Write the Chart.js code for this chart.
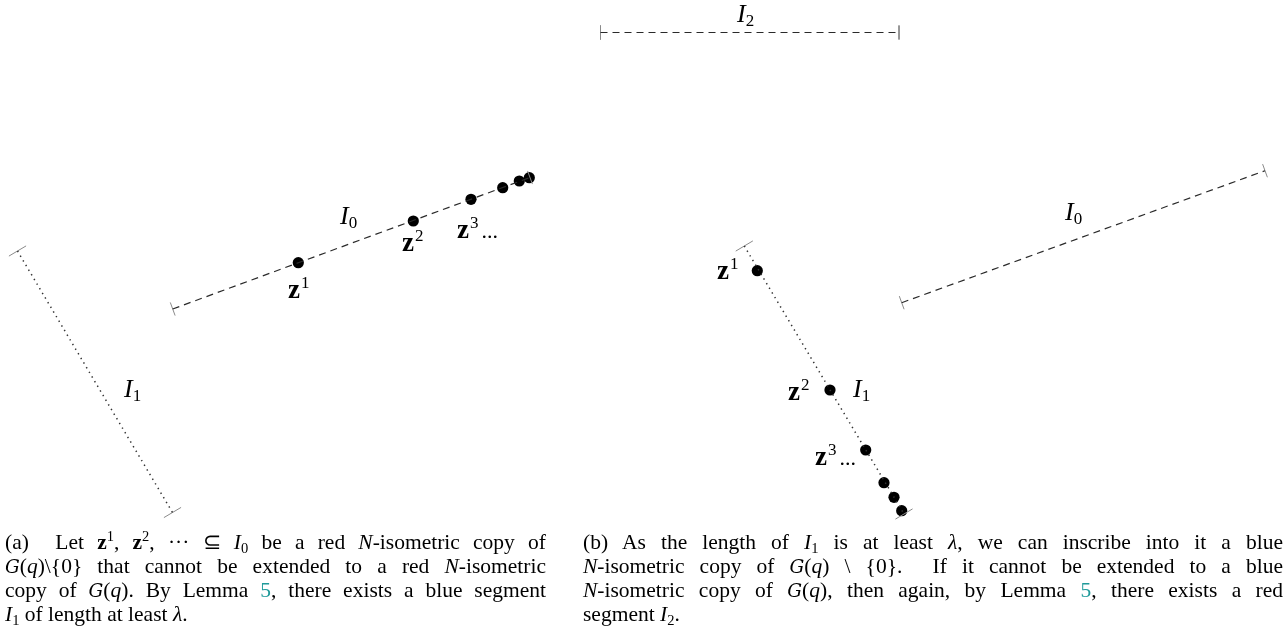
<!DOCTYPE html>
<html>
<head>
<meta charset="utf-8">
<script src="https://cdn.jsdelivr.net/npm/chart.js@4"></script>
<style>
  html, body { margin: 0; padding: 0; background: #fff; }
  #wrap { position: relative; width: 1288px; height: 632px; }
  #figure { position: absolute; left: 0; top: 0; }
  .caption {
    position: absolute;
    top: 530px;
    font-family: "Liberation Serif", serif;
    font-size: 21.5px;
    line-height: 24px;
    color: #000;
  }
  .caption .ln { height: 24px; white-space: nowrap; text-align: justify; text-align-last: justify; }
  .caption .ln.last { text-align-last: left; }
  .caption sup, .caption sub { font-size: 14.5px; line-height: 0; position: relative; vertical-align: baseline; }
  .caption sup { top: -8px; }
  .caption sub { top: 4px; }
  .caption .cal { font-family: "DejaVu Serif", serif; font-style: italic; font-size: 18.5px; }
  .caption .ref { color: #1f9a9a; }
  #capA { left: 5px; width: 541px; }
  #capB { left: 583px; width: 700px; }
</style>
</head>
<body>
<div id="wrap">
  <canvas id="figure" width="1288" height="632"></canvas>
  <div class="caption" id="capA">
    <div class="ln">(a)&nbsp; Let <b>z</b><sup>1</sup>, <b>z</b><sup>2</sup>, &middot;&middot;&middot; &sube; <i>I</i><sub>0</sub> be a red <i>N</i>-isometric copy of</div>
    <div class="ln"><span class="cal">G</span>(<i>q</i>)\{0} that cannot be extended to a red <i>N</i>-isometric</div>
    <div class="ln">copy of <span class="cal">G</span>(<i>q</i>). By Lemma <span class="ref">5</span>, there exists a blue segment</div>
    <div class="ln last"><i>I</i><sub>1</sub> of length at least <i>&lambda;</i>.</div>
  </div>
  <div class="caption" id="capB">
    <div class="ln">(b) As the length of <i>I</i><sub>1</sub> is at least <i>&lambda;</i>, we can inscribe into it a blue</div>
    <div class="ln"><i>N</i>-isometric copy of <span class="cal">G</span>(<i>q</i>) \ {0}. &nbsp;If it cannot be extended to a blue</div>
    <div class="ln"><i>N</i>-isometric copy of <span class="cal">G</span>(<i>q</i>), then again, by Lemma <span class="ref">5</span>, there exists a red</div>
    <div class="ln last">segment <i>I</i><sub>2</sub>.</div>
  </div>
</div>
<script>
// panel (a): red segment I0 with z^1, z^2, ... and blue segment I1
const aI0X = [172.7, 530];
const aI0Y = [309, 177.5];
const aI1X = [17.5, 172.5];
const aI1Y = [251, 512.5];
const aPointX = [298.3, 413.3, 471, 502.7, 519.3, 529.3];
const aPointY = [262.7, 221, 199.3, 187.7, 181, 177.7];

// panel (b): I0 again, blue segment I1 with its points, red segment I2
const bI0X = [901.7, 1265];
const bI0Y = [302.7, 170.7];
const bI1X = [744.3, 904];
const bI1Y = [246, 514];
const bI2X = [600.5, 899];
const bI2Y = [32.5, 32.5];
const bPointX = [757.3, 830, 865.7, 884, 894, 901.7];
const bPointY = [270.7, 390, 450, 482.7, 497.3, 510.7];

// math labels placed next to the marks
const labels = [
    { kind: 'I', idx: '0', x: 340, y: 224 },
    { kind: 'I', idx: '1', x: 124, y: 397 },
    { kind: 'z', idx: '1', x: 288, y: 298 },
    { kind: 'z', idx: '2', x: 402, y: 251 },
    { kind: 'z', idx: '3', x: 457, y: 238, dots: true },
    { kind: 'I', idx: '2', x: 737, y: 22 },
    { kind: 'I', idx: '0', x: 1065, y: 220 },
    { kind: 'I', idx: '1', x: 853, y: 397 },
    { kind: 'z', idx: '1', x: 717, y: 279 },
    { kind: 'z', idx: '2', x: 788, y: 400 },
    { kind: 'z', idx: '3', x: 815, y: 465, dots: true }
];

function toPoints(xs, ys) {
    return xs.map((x, i) => ({ x: x, y: ys[i] }));
}

function segment(xs, ys, dash, color, width) {
    return {
        data: toPoints(xs, ys),
        showLine: true,
        borderColor: color,
        borderWidth: width,
        borderDash: dash,
        pointRadius: 0,
        pointHoverRadius: 0,
        fill: false
    };
}

// small perpendicular end bars, derived from the segment ends
function endBars(xs, ys, half) {
    const dx = xs[1] - xs[0], dy = ys[1] - ys[0];
    const len = Math.sqrt(dx * dx + dy * dy);
    const px = -dy / len * half, py = dx / len * half;
    return [0, 1].map(i => ({
        data: [{ x: xs[i] - px, y: ys[i] - py }, { x: xs[i] + px, y: ys[i] + py }],
        showLine: true,
        borderColor: '#8a8a8a',
        borderWidth: 1,
        pointRadius: 0,
        pointHoverRadius: 0,
        fill: false
    }));
}

function dots(xs, ys) {
    return {
        data: toPoints(xs, ys),
        showLine: false,
        pointRadius: 5.6,
        pointBorderWidth: 0,
        pointBackgroundColor: '#000',
        pointHoverRadius: 5.6
    };
}

const dashed = [7, 5];
const dotted = [1.4, 4];

const datasets = [
    segment(aI0X, aI0Y, dashed, '#2a2a2a', 1.2),
    ...endBars(aI0X, aI0Y, 7),
    segment(aI1X, aI1Y, dotted, '#333', 1.5),
    ...endBars(aI1X, aI1Y, 10),
    segment(bI0X, bI0Y, dashed, '#2a2a2a', 1.2),
    ...endBars(bI0X, bI0Y, 7),
    segment(bI1X, bI1Y, dotted, '#333', 1.5),
    ...endBars(bI1X, bI1Y, 10),
    segment(bI2X, bI2Y, dashed, '#2a2a2a', 1.2),
    ...endBars(bI2X, bI2Y, 7),
    dots(aPointX, aPointY),
    dots(bPointX, bPointY)
];

const mathLabels = {
    id: 'mathLabels',
    afterDatasetsDraw(chart) {
        const ctx = chart.ctx;
        const sx = chart.scales.x, sy = chart.scales.y;
        ctx.save();
        ctx.fillStyle = '#000';
        ctx.textBaseline = 'alphabetic';
        labels.forEach(l => {
            const x = sx.getPixelForValue(l.x);
            const y = sy.getPixelForValue(l.y);
            if (l.kind === 'I') {
                ctx.font = 'italic 26px "Liberation Serif"';
                ctx.fillText('I', x, y);
                const w = ctx.measureText('I').width;
                ctx.font = '17px "Liberation Serif"';
                ctx.fillText(l.idx, x + w, y + 4);
            } else {
                ctx.font = 'bold 27px "Liberation Serif"';
                ctx.fillText('z', x, y);
                const w = ctx.measureText('z').width;
                ctx.font = '17px "Liberation Serif"';
                ctx.fillText(l.idx, x + w + 1, y - 10);
                if (l.dots) {
                    const w2 = ctx.measureText(l.idx).width;
                    ctx.font = '22px "Liberation Serif"';
                    ctx.fillText('...', x + w + w2 + 4, y);
                }
            }
        });
        ctx.restore();
    }
};

new Chart(document.getElementById('figure'), {
    type: 'scatter',
    data: { datasets: datasets },
    options: {
        responsive: false,
        animation: false,
        layout: { padding: 0, autoPadding: false },
        plugins: {
            legend: { display: false },
            tooltip: { enabled: false }
        },
        scales: {
            x: { type: 'linear', min: 0, max: 1288, display: false },
            y: { type: 'linear', min: 0, max: 632, reverse: true, display: false }
        }
    },
    plugins: [mathLabels]
});
</script>
</body>
</html>
